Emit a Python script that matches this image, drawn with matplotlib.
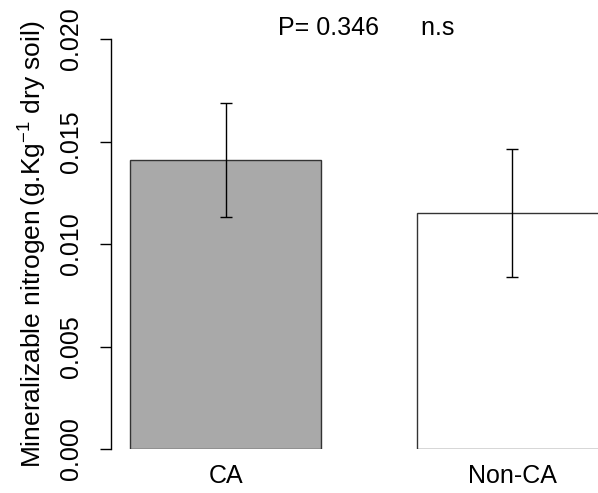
import matplotlib.pyplot as plt

# datos
grupos = ['CA', 'Non-CA']
medias = [0.0141, 0.01151]
errores = [0.00278, 0.00312]
colores = ['#a9a9a9', 'white']
ticks_y = [0.000, 0.005, 0.010, 0.015, 0.020]
etiquetas_y = ['0.000', '0.005', '0.010', '0.015', '0.020']

plt.rcParams['font.family'] = ['Liberation Sans', 'DejaVu Sans']
plt.rcParams['mathtext.default'] = 'regular'

fig = plt.figure(figsize=(5.98, 4.93), dpi=100)
ax = fig.add_axes([111 / 598, 44 / 493, 487 / 598, 410 / 493])

posiciones = [1.0, 2.5]
ax.bar(posiciones, medias, width=1.0, color=colores, edgecolor='#333333', linewidth=1.0, zorder=2)
ax.errorbar(posiciones, medias, yerr=errores, fmt='none', ecolor='black',
            elinewidth=1.0, capsize=4.5, capthick=1.0, zorder=3)

ax.set_xlim(0.4, 2.95)
ax.set_ylim(0, 0.020)
for lado in ['top', 'right', 'bottom']:
    ax.spines[lado].set_visible(False)
ax.spines['left'].set_linewidth(1.0)

ax.set_yticks(ticks_y)
ax.set_yticklabels(etiquetas_y, rotation=90, va='center', fontsize=18)
ax.tick_params(axis='y', length=8, width=1.0, pad=12)
ax.set_xticks(posiciones)
ax.set_xticklabels(grupos, fontsize=18)
ax.tick_params(axis='x', length=0, pad=11)

ax.set_ylabel('Mineralizable nitrogen$\\,$(g.Kg$^{-1}$ dry soil)', fontsize=19, labelpad=7)

fig.text(278 / 598, 1 - 28 / 493, 'P= 0.346      n.s', fontsize=18, va='center', ha='left')

plt.savefig('out.png', dpi=100)
